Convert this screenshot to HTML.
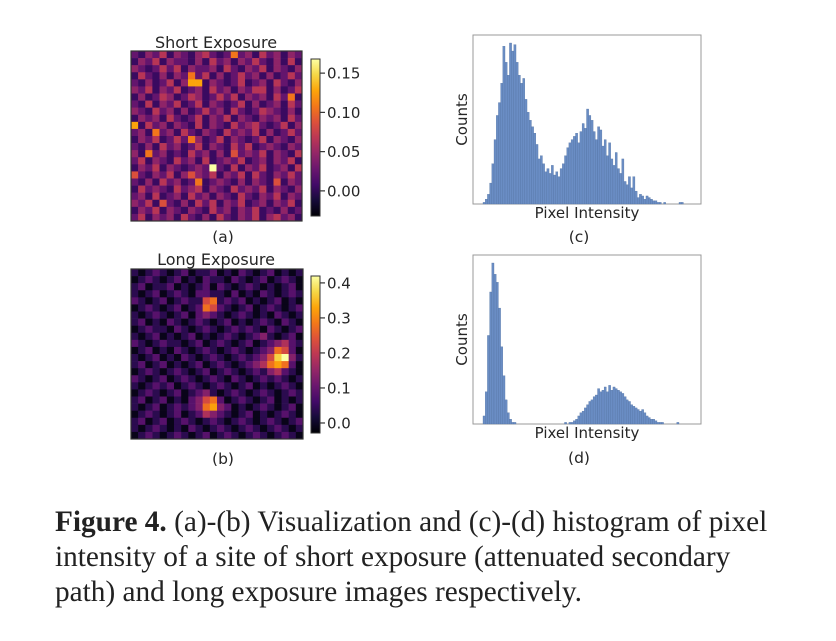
<!DOCTYPE html>
<html><head><meta charset="utf-8"><style>
body{margin:0;background:#fff;width:836px;height:641px;overflow:hidden;position:relative}
svg text{font-family:"DejaVu Sans","Liberation Sans",sans-serif;fill:#262626}
#cap{position:absolute;left:55px;top:505px;font-family:"Liberation Serif",serif;font-size:29.3px;line-height:35px;color:#222;white-space:nowrap}
</style></head><body>
<svg id="fig" width="836" height="500" style="position:absolute;left:0;top:0">
<defs>
<linearGradient id="inf" x1="0" y1="1" x2="0" y2="0">
<stop offset="0" stop-color="#000004"/><stop offset="0.1" stop-color="#160b39"/><stop offset="0.2" stop-color="#420a68"/><stop offset="0.3" stop-color="#6a176e"/><stop offset="0.4" stop-color="#932667"/><stop offset="0.5" stop-color="#bc3754"/><stop offset="0.6" stop-color="#dd513a"/><stop offset="0.7" stop-color="#f37819"/><stop offset="0.8" stop-color="#fca50a"/><stop offset="0.9" stop-color="#f6d746"/><stop offset="1" stop-color="#fcffa4"/>
</linearGradient></defs>
<text x="216" y="48" font-size="16" text-anchor="middle">Short Exposure</text>
<text x="216" y="265" font-size="16" text-anchor="middle">Long Exposure</text>
<g id="hmA"></g>
<g id="hmB"></g>
<g id="cbA"></g>
<g id="cbB"></g>
<g id="hC"></g>
<g id="hD"></g>
<text x="223" y="242" font-size="15.5" text-anchor="middle">(a)</text>
<text x="223" y="464" font-size="15.5" text-anchor="middle">(b)</text>
<text x="579" y="242" font-size="15.5" text-anchor="middle">(c)</text>
<text x="579" y="463" font-size="15.5" text-anchor="middle">(d)</text>
</svg>
<div id="cap"><b>Figure 4.</b> (a)-(b) Visualization and (c)-(d) histogram of pixel<br>intensity of a site of short exposure (attenuated secondary<br>path) and long exposure images respectively.</div>
<script>
const gridA=["213241321342126231423132","132413221314231324213141","321242413223142132413213","142131326241312423131242","213124137713212412314213","324132412314231324413124","131243124312424132314261","214132412413212413123142","321423131242314212432131","132314212413241321323142","714231321413214234212413","231623142132142324131242","132412426312413212413213","213142312413214241232132","316231214231315232413214","241321423141232412313241","132413212329214132412314","521324135324132414213242","213142312612321313215132","142321423413214232413213","231412314231321421324132","324152131424132412313241","132413213214231324121312","241323142131421324134231"];
const gridB=["101210120112010210120101","012101201021102101201210","120112010120210121010120","101201210221102010210121","210120121156121201012010","012101201265210120121012","101210120232101210102101","120102101210120101210210","012110210121012121021012","101201012010121012310120","210121101201210120123421","012010210121012101236520","101201021012101212358931","120120101201210123467620","012101210120121012134210","210120121012102101212101","101212012101210120101210","012101201231012101210121","120120102356201210120101","101201212367320101210120","012101201243210120101210","120120121012101210121012","101210102101210121012101","012101210120121012101210"];
const ticksA=["0.15","0.10","0.05","0.00"], tickValsA=[0.15,0.10,0.05,0.00];
const ticksB=["0.4","0.3","0.2","0.1","0.0"], tickValsB=[0.4,0.3,0.2,0.1,0.0];
const countsC=[1,3,6,13,25,40,55,63,75,98,88,80,100,95,99,88,80,75,78,65,57,52,48,44,37,28,30,25,20,22,19,24,18,20,17,22,25,30,35,38,40,42,44,38,45,50,47,59,55,52,45,40,48,46,36,40,30,38,28,24,32,22,19,28,14,12,17,10,17,8,4,6,5,3,5,4,3,2,2,1,1,0,1,0,0,0,0,0,0,1,1,0,0,0];
const countsD=[5,20,55,82,100,93,88,72,48,30,15,7,3,1,1,0,0,0,0,0,0,0,0,0,0,0,0,0,0,0,0,0,0,0,0,0,0,1,0,1,1,2,3,5,7,8,10,12,14,15,17,18,22,20,21,23,20,24,21,23,22,21,20,19,17,15,14,12,11,10,9,8,9,7,5,4,3,3,2,1,1,1,0,0,0,0,0,0,1,0,0,0,0,0];
const NS="http://www.w3.org/2000/svg";
const stops=[[0,0,0,4],[.1,22,11,57],[.2,66,10,104],[.3,106,23,110],[.4,147,38,103],[.5,188,55,84],[.6,221,81,58],[.7,243,120,25],[.8,252,165,10],[.9,246,215,70],[1,252,255,164]];
function inferno(t){t=Math.max(0,Math.min(1,t));for(let i=1;i<stops.length;i++){if(t<=stops[i][0]){const a=stops[i-1],b=stops[i],f=(t-a[0])/(b[0]-a[0]);return `rgb(${[1,2,3].map(k=>Math.round(a[k]+f*(b[k]-a[k]))).join(',')})`;}}return 'rgb(252,255,164)';}
function mk(tag,attrs,parent){const e=document.createElementNS(NS,tag);for(const k in attrs)e.setAttribute(k,attrs[k]);parent.appendChild(e);return e;}
function heat(id,grid,x0,y0,w,h,off){const g=document.getElementById(id);const n=grid.length,cw=w/n,ch=h/n;
grid.forEach((row,r)=>{[...row].forEach((d,c)=>{const e=mk('rect',{x:x0+c*cw,y:y0+r*ch,width:cw+0.3,height:ch+0.3,fill:inferno(off+(+d/9)*(1-off))},g);

});});
mk('rect',{x:x0,y:y0,width:w,height:h,fill:'none',stroke:'#333','stroke-width':1.2},g);}
function cbar(id,x,y0,y1,vmin,vmax,labels,vals){const g=document.getElementById(id);
mk('rect',{x:x,y:y0,width:9,height:y1-y0,fill:'url(#inf)',stroke:'#333','stroke-width':1},g);
const sc=v=>y1-(v-vmin)/(vmax-vmin)*(y1-y0);
vals.forEach((v,i)=>{const y=sc(v);mk('line',{x1:x+9,x2:x+14,y1:y,y2:y,stroke:'#333','stroke-width':1.2},g);
const t=mk('text',{x:x+16,y:y+5.5,'font-size':15},g);t.textContent=labels[i];

});}
function hist(id,counts,bx,by,bw,bh,x0,x1){const g=document.getElementById(id);
mk('rect',{x:bx,y:by,width:bw,height:bh,fill:'#fff',stroke:'#999','stroke-width':1},g);
const mx=Math.max(...counts),bwid=(x1-x0)/counts.length,base=by+bh,ys=v=>v/mx*(bh-8);
counts.forEach((v,i)=>{if(v<=0)return;const h=ys(v);const e=mk('rect',{x:x0+i*bwid,y:base-h,width:bwid,height:h,fill:'#6a8dc4',stroke:'#4f6f9f','stroke-width':0.3},g);

});
const t=mk('text',{x:bx+bw/2,y:base+14,'font-size':15,'text-anchor':'middle'},g);t.textContent='Pixel Intensity';


const c=mk('text',{x:bx-6,y:by+bh/2,'font-size':15,'text-anchor':'middle',transform:`rotate(-90 ${bx-6} ${by+bh/2})`},g);c.textContent='Counts';

}
heat('hmA',gridA,131,51,171,170,0.08);
heat('hmB',gridB,131,269,172,170,0.04);
cbar('cbA',311,59,216,-0.032,0.168,ticksA,tickValsA);
cbar('cbB',311,276,433,-0.0286,0.4197,ticksB,tickValsB);
hist('hC',countsC,473,35,228,169,483,690);
hist('hD',countsD,473,255,228,169,483,690);
</script>
</body></html>
